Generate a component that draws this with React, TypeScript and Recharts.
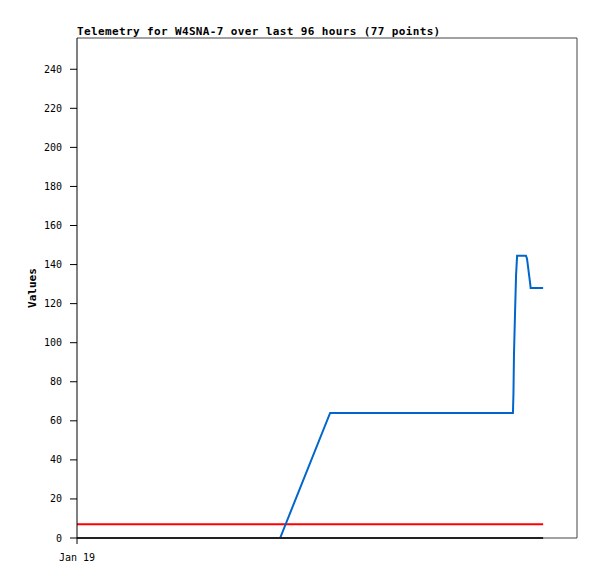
import { Line, LineChart, ReferenceLine, XAxis, YAxis } from "recharts";

// hours since start of the 96h window
const blueHours = [0, 39.0, 48.6, 83.7, 83.8, 83.9, 84.1, 84.3, 84.5, 86.2, 86.4, 86.6, 86.8, 87.0, 87.1, 89.5];
const blueValues = [0, 0, 64, 64, 74, 94, 115, 134.6, 144.5, 144.5, 143, 139, 134.6, 130.5, 128, 128];
const redHours = [0, 89.5];
const redValues = [7, 7];
const blackHours = [0, 89.5];
const blackValues = [0, 0];
const yTicks = [0, 20, 40, 60, 80, 100, 120, 140, 160, 180, 200, 220, 240];
const xTickLabels = ["Jan 19"];

const X_MAX = 96;
const Y_MAX = 256;

const toPoints = (xs: number[], ys: number[]) => xs.map((t, i) => ({ t, v: ys[i] }));

const blue = toPoints(blueHours, blueValues);
const red = toPoints(redHours, redValues);
const black = toPoints(blackHours, blackValues);

const mono = "'DejaVu Sans Mono', monospace";

export default function App() {
  return (
    <div style={{ position: "absolute", left: 0, top: 0, width: 597, height: 579, background: "#fff" }}>
      <div
        style={{
          position: "absolute",
          left: 77,
          top: 25,
          fontFamily: mono,
          fontWeight: "bold",
          fontSize: 11,
          letterSpacing: 0.37,
          color: "#000",
          whiteSpace: "nowrap",
        }}
      >
        Telemetry for W4SNA-7 over last 96 hours (77 points)
      </div>
      <LineChart
        width={597}
        height={579}
        margin={{ top: 38, right: 20, bottom: 11, left: 37 }}
        style={{ position: "absolute", left: 0, top: 0 }}
      >
        <XAxis
          dataKey="t"
          type="number"
          domain={[0, X_MAX]}
          ticks={[0]}
          tickFormatter={() => xTickLabels[0]}
          height={30}
          tickSize={6}
          tickMargin={10}
          axisLine={{ stroke: "#444" }}
          tickLine={{ stroke: "#000" }}
          tick={{ fill: "#000", fontSize: 10, fontFamily: mono }}
          allowDataOverflow
        />
        <YAxis
          type="number"
          domain={[0, Y_MAX]}
          ticks={yTicks}
          width={40}
          tickSize={7}
          tickMargin={8}
          interval={0}
          axisLine={{ stroke: "#000" }}
          tickLine={{ stroke: "#000" }}
          tick={{ fill: "#000", fontSize: 10, fontFamily: mono }}
          label={{
            content: () => (
              <text
                x={36}
                y={288}
                transform="rotate(-90 36 288)"
                textAnchor="middle"
                fontFamily={mono}
                fontWeight="bold"
                fontSize={11}
                fill="#000"
              >
                Values
              </text>
            ),
          }}
        />
        {/* plot frame, top and right */}
        <ReferenceLine y={Y_MAX} stroke="#444" strokeWidth={1} />
        <ReferenceLine x={X_MAX} stroke="#444" strokeWidth={1} />
        <Line
          data={red}
          dataKey="v"
          type="linear"
          stroke="#ff0000"
          strokeWidth={2}
          dot={false}
          isAnimationActive={false}
        />
        <Line
          data={blue}
          dataKey="v"
          type="linear"
          stroke="#0066cc"
          strokeWidth={2}
          dot={false}
          isAnimationActive={false}
        />
        <Line
          data={black}
          dataKey="v"
          type="linear"
          stroke="#000"
          strokeWidth={2}
          dot={false}
          isAnimationActive={false}
        />
      </LineChart>
    </div>
  );
}
